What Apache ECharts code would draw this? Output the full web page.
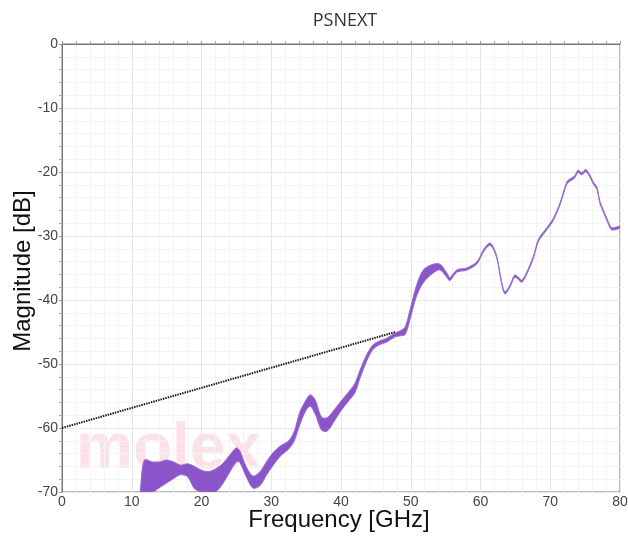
<!DOCTYPE html>
<html>
<head>
<meta charset="utf-8">
<script src="https://cdn.jsdelivr.net/npm/echarts@6/dist/echarts.min.js"></script>
<style>
  html, body { margin: 0; padding: 0; background: #fff; }
  #psnext-chart { width: 628px; height: 536px; }
</style>
</head>
<body>
<div id="psnext-chart"></div>
<script>
// frequency points (GHz)
var freq = [11.2, 11.8, 13, 14, 15, 16, 17, 18, 19, 20, 21, 22, 23, 24, 25, 25.5, 26.4, 27.4, 28.4, 29.3,
  30.3, 31.3, 32.5, 33.3, 34.1, 35.0, 35.6, 36.3, 37.2, 38.0, 39.0, 40.0, 41.0, 42.0, 42.7, 43.7, 44.6, 45.5,
  46.5, 47.7, 48.5, 49.2, 49.9, 50.8, 51.8, 53.2, 54.2, 55.2, 55.6, 56.6, 58.0, 59.5, 60.5, 61.4, 62.3, 63.0,
  63.5, 64.2, 64.9, 65.4, 65.9, 66.6, 67.6, 68.3, 69.5, 70.4, 71.4, 72.4, 73.1, 73.5, 74.0, 74.5, 75.1, 75.7,
  76.2, 76.7, 77.1, 77.6, 78.3, 78.8, 79.8, 80]

// upper edge of the envelope (dB)
var upper = [-70, -65.0, -65.3, -65.3, -65.0, -65.3, -65.8, -65.6, -66.0, -66.6, -66.8, -66.4, -65.6, -64.3, -63.1, -63.6, -66.0, -67.5, -66.8, -65.3,
  -63.8, -62.8, -62.0, -60.5, -57.5, -55.6, -54.8, -55.6, -58.3, -58.4, -57.2, -55.8, -54.5, -53.0, -51.0, -48.5, -47.0, -46.4,
  -46.0, -45.2, -44.8, -44.2, -41.5, -37.8, -35.3, -34.4, -34.4, -35.8, -36.5, -35.3, -35.0, -34.0, -32.0, -31.1, -33.0, -37.0,
  -38.7, -37.7, -36.1, -36.4, -36.9, -35.7, -33.1, -30.5, -28.7, -27.3, -24.8, -21.5, -20.9, -20.6, -19.7, -20.1, -19.6, -20.5,
  -21.6, -22.4, -24.5, -25.9, -27.7, -28.7, -28.5, -28.4]

// lower edge of the envelope (dB), cut at the axis bottom
var lower = [-70, -70, -70, -69.3, -68.6, -67.9, -67.3, -67.6, -69.5, -70, -70, -70, -68.8, -67.0, -65.3, -65.4, -67.6, -69.4, -69.0, -67.4,
  -65.8, -64.4, -63.3, -62.0, -59.5, -57.2, -56.6, -57.8, -60.3, -60.5, -59.0, -57.3, -55.9, -54.5, -52.3, -49.5, -47.7, -47.0,
  -46.6, -45.8, -45.6, -45.4, -43.0, -39.5, -37.3, -35.8, -35.3, -36.5, -37.0, -35.65, -35.35, -34.35, -32.35, -31.45, -33.35, -37.35,
  -39.05, -38.05, -36.45, -36.75, -37.25, -36.05, -33.45, -30.85, -29.05, -27.65, -25.15, -21.85, -21.25, -20.95, -20.05, -20.45, -19.95, -20.85,
  -21.95, -22.75, -24.85, -26.25, -28.05, -29.05, -28.85, -28.75]

// dotted limit line
var limitFreq = [0, 47.8]
var limitMag = [-60, -45]

var chart = echarts.init(document.getElementById('psnext-chart'))

var limitData = limitFreq.map(function (f, i) { return [f, limitMag[i]] })

var purple = '#8b55c9'
var tickFont = { color: '#444', fontSize: 14, fontFamily: 'Liberation Sans' }
var nameFont = '24px Liberation Sans'

// envelope polygon: upper edge forward, lower edge back
function renderBand(params, api) {
  if (params.dataIndex !== 0) return
  var pts = []
  for (var i = 0; i < freq.length; i++) pts.push(api.coord([freq[i], upper[i]]))
  for (var j = freq.length - 1; j >= 0; j--) pts.push(api.coord([freq[j], lower[j]]))
  return {
    type: 'polygon',
    shape: { points: pts, smooth: 0.3 },
    style: { fill: purple, stroke: '#9770cf', lineWidth: 1, lineJoin: 'round' }
  }
}

var option = {
  animation: false,
  title: {
    text: 'PSNEXT',
    left: 340,
    textAlign: 'center',
    top: 7,
    textStyle: { fontFamily: 'Open Sans', fontWeight: 'normal', fontSize: 18, color: '#333' }
  },
  grid: {
    left: 62,
    right: 8,
    top: 44,
    bottom: 44,
    outerBoundsMode: 'none',
    containLabel: false,
    show: true,
    borderColor: '#777',
    borderWidth: 1
  },
  graphic: [
    {
      type: 'text',
      left: 76,
      top: 418,
      z: 0,
      silent: true,
      style: {
        text: 'molex',
        font: 'bold 64px Liberation Sans',
        fill: 'rgba(245, 170, 185, 0.35)'
      }
    },
    // axis titles
    {
      type: 'text',
      x: 339,
      y: 520,
      silent: true,
      style: { text: 'Frequency [GHz]', font: nameFont, fill: '#111', align: 'center', verticalAlign: 'middle' }
    },
    {
      type: 'text',
      x: 23,
      y: 271,
      rotation: Math.PI / 2,
      silent: true,
      style: { text: 'Magnitude [dB]', font: nameFont, fill: '#111', align: 'center', verticalAlign: 'middle' }
    }
  ],
  xAxis: {
    type: 'value',
    min: 0,
    max: 80,
    interval: 10,
    axisLine: { lineStyle: { color: '#777' } },
    axisTick: { show: true, inside: true, length: 3, lineStyle: { color: '#999' } },
    minorTick: { show: true, splitNumber: 5, length: 3, lineStyle: { color: '#aaa' } },
    axisLabel: Object.assign({ margin: 3 }, tickFont),
    splitLine: { show: true, lineStyle: { color: '#e6e6e6' } },
    minorSplitLine: { show: true, lineStyle: { color: '#f4f4f4' } }
  },
  yAxis: {
    type: 'value',
    min: -70,
    max: 0,
    interval: 10,
    axisLine: { show: true, lineStyle: { color: '#777' } },
    axisTick: { show: true, length: 3, lineStyle: { color: '#999' } },
    minorTick: { show: true, splitNumber: 5, length: 3, lineStyle: { color: '#aaa' } },
    axisLabel: Object.assign({ margin: 4 }, tickFont),
    splitLine: { show: true, lineStyle: { color: '#e6e6e6' } },
    minorSplitLine: { show: true, lineStyle: { color: '#f4f4f4' } }
  },
  series: [
    {
      name: 'PSNEXT',
      type: 'custom',
      clip: true,
      renderItem: renderBand,
      data: [[freq[0], upper[0]]],
      z: 2
    },
    {
      name: 'limit',
      type: 'line',
      symbol: 'none',
      lineStyle: { color: '#1a1a1a', width: 2, type: [1.5, 1] },
      data: limitData,
      z: 3
    }
  ]
}

chart.setOption(option)
</script>
</body>
</html>
